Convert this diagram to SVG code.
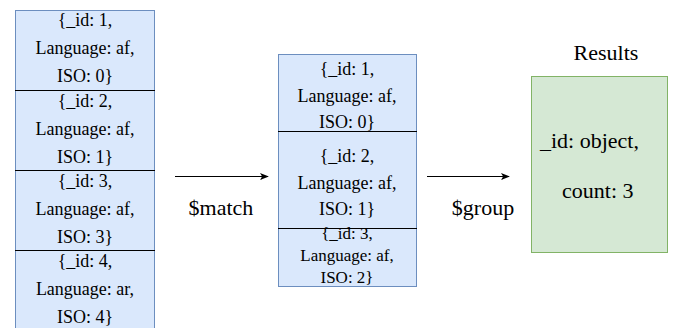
<svg xmlns="http://www.w3.org/2000/svg" width="677" height="328" viewBox="0 0 677 328">
<defs>
<style>
.blue{fill:#dae8fc;stroke:#6c8ebf;stroke-width:1}
.green{fill:#d5e8d4;stroke:#82b366;stroke-width:1}
.div{stroke:#000;stroke-width:1}
.edge{stroke:#000;stroke-width:1;fill:none}
</style>
<marker id="arr" viewBox="0 0 10 10" refX="9" refY="5" markerWidth="9" markerHeight="9" markerUnits="userSpaceOnUse" orient="auto">
<path d="M0,1 L10,5 L0,9 L2.5,5 Z" fill="#000"/>
</marker>
</defs>
<rect width="677" height="328" fill="#fff"/>
<g id="input-docs">
<rect class="blue" x="15.5" y="10.5" width="139" height="330"/>
<line class="div" x1="15" y1="90.5" x2="155" y2="90.5"/>
<line class="div" x1="15" y1="170.5" x2="155" y2="170.5"/>
<line class="div" x1="15" y1="250.5" x2="155" y2="250.5"/>
<text x="85" y="26" font-size="18" font-family="Liberation Serif" text-anchor="middle">{_id: 1,</text>
<text x="85" y="54" font-size="18" font-family="Liberation Serif" text-anchor="middle">Language: af,</text>
<text x="85" y="82" font-size="18" font-family="Liberation Serif" text-anchor="middle">ISO: 0}</text>
<text x="85" y="107" font-size="18" font-family="Liberation Serif" text-anchor="middle">{_id: 2,</text>
<text x="85" y="135" font-size="18" font-family="Liberation Serif" text-anchor="middle">Language: af,</text>
<text x="85" y="163" font-size="18" font-family="Liberation Serif" text-anchor="middle">ISO: 1}</text>
<text x="85" y="187" font-size="18" font-family="Liberation Serif" text-anchor="middle">{_id: 3,</text>
<text x="85" y="215" font-size="18" font-family="Liberation Serif" text-anchor="middle">Language: af,</text>
<text x="85" y="243" font-size="18" font-family="Liberation Serif" text-anchor="middle">ISO: 3}</text>
<text x="85" y="267" font-size="18" font-family="Liberation Serif" text-anchor="middle">{_id: 4,</text>
<text x="85" y="295" font-size="18" font-family="Liberation Serif" text-anchor="middle">Language: ar,</text>
<text x="85" y="323" font-size="18" font-family="Liberation Serif" text-anchor="middle">ISO: 4}</text>
</g>
<g id="matched-docs">
<rect class="blue" x="278.5" y="54.5" width="138" height="232"/>
<line class="div" x1="278" y1="131.5" x2="417" y2="131.5"/>
<line class="div" x1="278" y1="228.5" x2="417" y2="228.5"/>
<text x="347" y="75" font-size="18" font-family="Liberation Serif" text-anchor="middle">{_id: 1,</text>
<text x="347" y="102" font-size="18" font-family="Liberation Serif" text-anchor="middle">Language: af,</text>
<text x="347" y="128" font-size="18" font-family="Liberation Serif" text-anchor="middle">ISO: 0}</text>
<text x="347" y="162" font-size="18" font-family="Liberation Serif" text-anchor="middle">{_id: 2,</text>
<text x="347" y="189" font-size="18" font-family="Liberation Serif" text-anchor="middle">Language: af,</text>
<text x="347" y="215" font-size="18" font-family="Liberation Serif" text-anchor="middle">ISO: 1}</text>
<text x="347" y="239" font-size="17" font-family="Liberation Serif" text-anchor="middle">{_id: 3,</text>
<text x="347" y="261" font-size="17" font-family="Liberation Serif" text-anchor="middle">Language: af,</text>
<text x="347" y="283" font-size="17" font-family="Liberation Serif" text-anchor="middle">ISO: 2}</text>
</g>
<g id="results">
<text x="606" y="60" font-size="22" font-family="Liberation Serif" text-anchor="middle">Results</text>
<rect class="green" x="531.5" y="76.5" width="136" height="176"/>
<text x="540" y="148" font-size="22" font-family="Liberation Serif">_id: object,</text>
<text x="562" y="198" font-size="22" font-family="Liberation Serif">count: 3</text>
</g>
<g id="connectors">
<line class="edge" x1="175" y1="176.5" x2="268" y2="176.5" marker-end="url(#arr)"/>
<text x="221" y="215" font-size="22" font-family="Liberation Serif" text-anchor="middle">$match</text>
<line class="edge" x1="427" y1="176.5" x2="509" y2="176.5" marker-end="url(#arr)"/>
<text x="483" y="215" font-size="22" font-family="Liberation Serif" text-anchor="middle">$group</text>
</g>
</svg>
